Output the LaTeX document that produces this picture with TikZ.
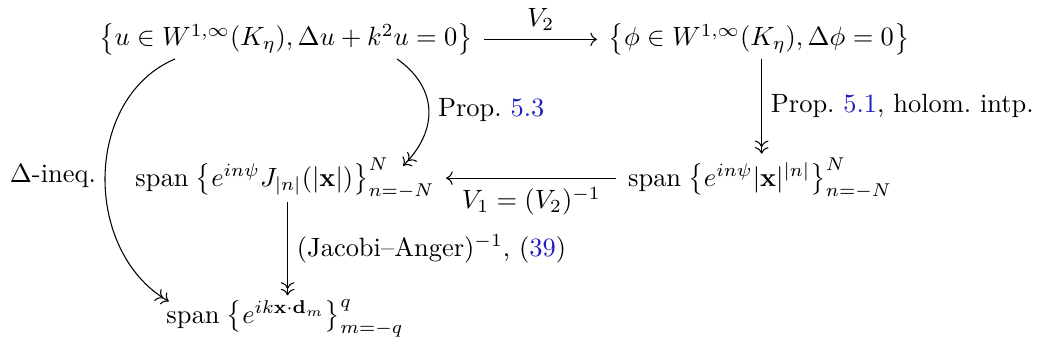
\documentclass[tikz,border=0pt]{standalone}
\usepackage{amsmath,amssymb}
\usetikzlibrary{arrows.meta,positioning,calc}
\definecolor{LinkBlue}{RGB}{30,30,190}
\newcommand{\lnk}[1]{\textcolor{LinkBlue}{#1}}
\tikzset{
  spacebox/.style={anchor=base,inner xsep=4.2pt,inner ysep=1.2pt,font=\normalsize},
  maparrow/.style={-{Computer Modern Rightarrow[]},line width=0.4pt},
  ontoarrow/.style={-{Computer Modern Rightarrow[]Computer Modern Rightarrow[]},line width=0.4pt},
  maplabel/.style={inner sep=3.3pt,font=\normalsize},
}

\begin{document}
\begin{tikzpicture}[x=0.378pt,y=-0.378pt]
    \useasboundingbox (0,0) rectangle (1041,349);
    % the five spaces
    \node[spacebox] (helm)   at (286,46)  {$\bigl\{u\in W^{1,\infty}(K_\eta),\Delta u+k^2u=0\bigr\}$};
    \node[spacebox] (lapl)   at (759,46)  {$\bigl\{\phi\in W^{1,\infty}(K_\eta),\Delta\phi=0\bigr\}$};
    \node[spacebox] (bessel) at (285,186) {$\mathrm{span}\;\bigl\{e^{in\psi}J_{|n|}(|\mathbf{x}|)\bigr\}_{n=-N}^{N}$};
    \node[spacebox] (harm)   at (760,186) {$\mathrm{span}\;\bigl\{e^{in\psi}|\mathbf{x}|^{|n|}\bigr\}_{n=-N}^{N}$};
    \node[spacebox] (plane)  at (285,323) {$\mathrm{span}\;\bigl\{e^{ik\mathbf{x}\cdot\mathbf{d}_m}\bigr\}_{m=-q}^{q}$};
    % maps
    \draw[maparrow] (helm) -- node[above,maplabel] {$V_2$} (lapl);
    \draw[ontoarrow] ([xshift=1pt]lapl.south) -- ([xshift=1pt]lapl.south |- harm.north)
        node[midway,right,maplabel] {Prop.~\lnk{5.1}, holom.\ intp.};
    \draw[maparrow] (harm) -- (harm -| bessel.east)
        node[midway,below,maplabel] {$V_1=(V_2)^{-1}$};
    \draw[ontoarrow] ([xshift=1pt]bessel.south) -- ([xshift=1pt]bessel.south |- plane.north)
        node[midway,right,maplabel] {$(\text{Jacobi--Anger})^{-1}$, (\lnk{39})};
    \draw[ontoarrow] ($(helm.south)+(111,0)$) to[out=-35,in=45,looseness=1.2]
        node[right,maplabel] {Prop.~\lnk{5.3}} ($(bessel.north east)+(-43,12)$);
    \draw[ontoarrow] ($(helm.south)+(-111,0)$) to[out=203,in=150,looseness=1.05]
        node[left,maplabel] {$\Delta$-ineq.} ($(plane.north west)+(14,6)$);
\end{tikzpicture}
\end{document}
